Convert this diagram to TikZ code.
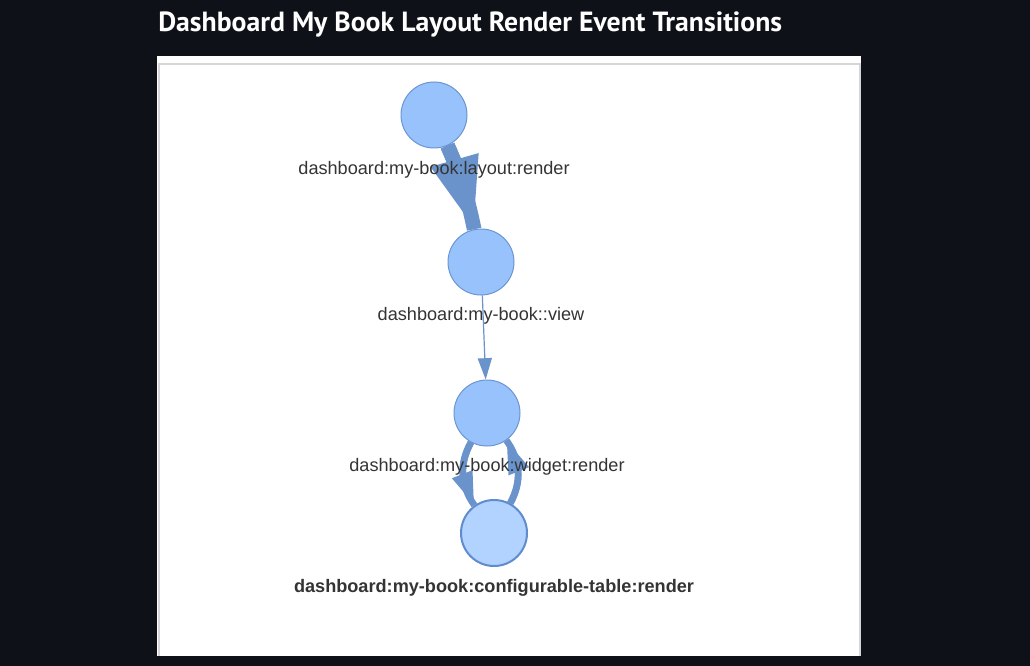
\documentclass[tikz,border=0pt]{standalone}
\usepackage{fontspec}
\setmainfont{Liberation Sans}
\newfontfamily\titlefont{PT Sans}
\usepackage{xcolor}
\usepackage{tikz}
\usetikzlibrary{arrows.meta,bending,calc}
\definecolor{pagebg}{RGB}{14,17,23}
\definecolor{panelrule}{RGB}{214,214,216}
\definecolor{nodefill}{RGB}{151,194,252}
\definecolor{nodeline}{RGB}{108,150,210}
\definecolor{selfill}{RGB}{178,210,255}
\definecolor{selline}{RGB}{95,140,205}
\definecolor{edgec}{RGB}{106,147,204}
\definecolor{lbltext}{RGB}{52,52,52}
\tikzset{
  state/.style={circle, draw=nodeline, fill=nodefill, line width=0.75pt,
                minimum size=49.5pt, inner sep=0pt},
  selstate/.style={state, draw=selline, fill=selfill, line width=1.5pt},
  evlbl/.style={font=\fontsize{13.6pt}{15pt}\selectfont, text=lbltext, inner sep=0pt},
  sellbl/.style={evlbl, font=\fontsize{13.6pt}{15pt}\selectfont\bfseries},
  heavyshaft/.style={line width=11pt, edgec},
  heavy/.style={heavyshaft, -{Triangle[length=54pt,width=34pt,flex]}},
  light/.style={-{Triangle[length=16pt,width=10.5pt]}, line width=0.9pt, edgec},
  midshaft/.style={line width=5pt, edgec},
  medium/.style={midshaft, -{Triangle[length=25pt,width=15pt,flex]}}
}

\begin{document}
\begin{tikzpicture}[x=0.75pt,y=-0.75pt]
\fill[pagebg] (0,0) rectangle (1030,666);
\useasboundingbox (0,0) rectangle (1030,666);
\fill[white] (157,56) rectangle (861,656);
\draw[panelrule, line width=1.5pt] (158.5,656) |- (859.5,64.5) -- (859.5,656);
\node[anchor=base west, text=white, inner sep=0pt,
      font=\titlefont\bfseries\fontsize{20.8pt}{24pt}\selectfont] (title) at (158,32)
  {Dashboard My Book Layout Render Event Transitions};

% states
\node[state] (layout) at (434,115) {};
\node[state] (view) at (481,262) {};
\node[state] (widget) at (487,413) {};
\node[selstate] (table) at (494,533) {};

% transitions (shaft first, then the same edge with its tip)
\draw[heavyshaft] (layout) to[bend left=6] (view);
\draw[heavy] (layout) to[bend left=6] (view);
\draw[light] (view) -- (widget);
\draw[midshaft] (widget) to[bend right=32] (table);
\draw[medium] (widget) to[bend right=32] (table);
\draw[midshaft] (table) to[bend right=32] (widget);
\draw[medium] (table) to[bend right=32] (widget);

% labels
\node[evlbl] (layoutlbl) at (434,170) {dashboard:my-book:layout:render};
\node[evlbl] (viewlbl) at (481,316) {dashboard:my-book::view};
\node[evlbl] (widgetlbl) at (487,467) {dashboard:my-book:widget:render};
\node[sellbl] (tablelbl) at (494,588) {dashboard:my-book:configurable-table:render};
\end{tikzpicture}
\end{document}
